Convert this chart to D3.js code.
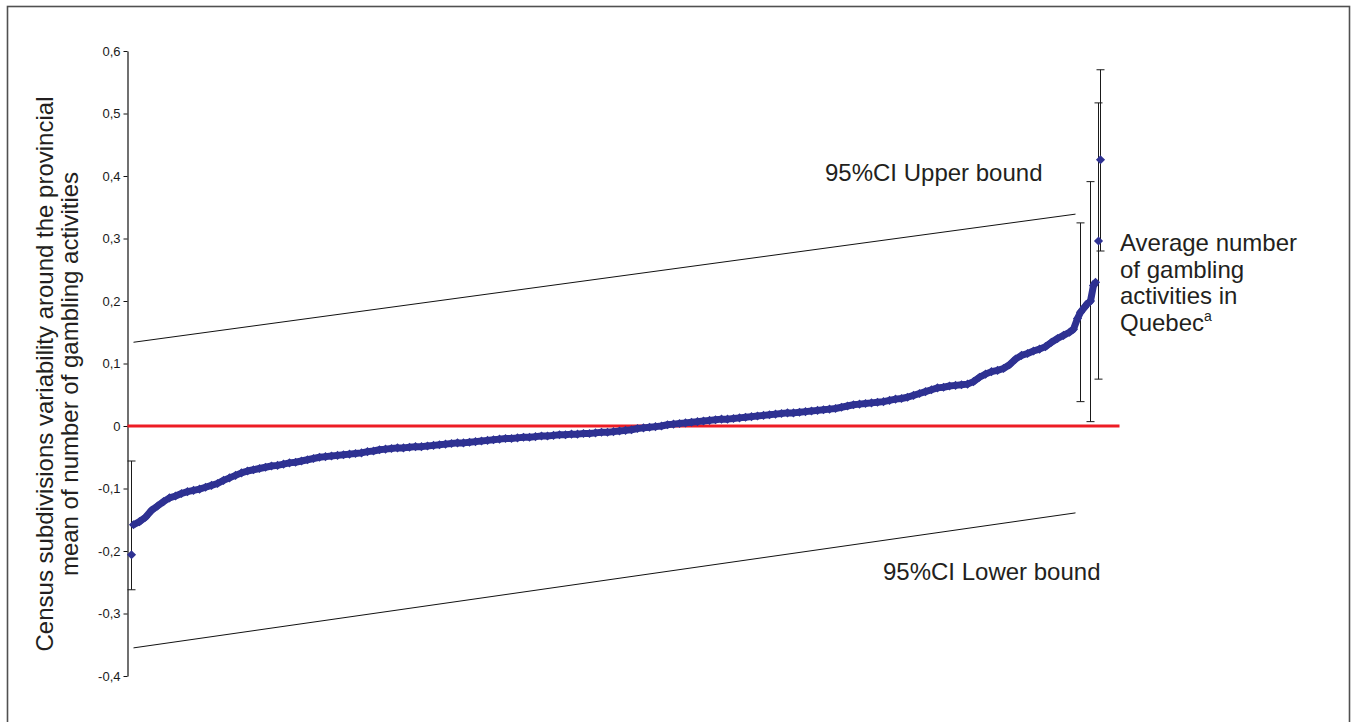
<!DOCTYPE html>
<html>
<head>
<meta charset="utf-8">
<script src="https://cdn.jsdelivr.net/npm/d3@7"></script>
<style>
  body { margin: 0; background: #fff; }
  svg { display: block; font-family: "Liberation Sans", Arial, sans-serif; }
</style>
</head>
<body>
<svg width="1353" height="722"></svg>
<script>
// rank of the census subdivision (sorted) and its deviation from the provincial mean
const csdPoints = [
  [4, -0.206],
  [6, -0.158], [12, -0.153], [18, -0.146], [24, -0.135], [30, -0.128], [36, -0.121],
  [42, -0.115], [48, -0.112], [54, -0.108], [60, -0.105], [66, -0.103], [72, -0.101],
  [78, -0.098], [84, -0.095], [90, -0.092], [96, -0.087], [102, -0.083], [108, -0.079],
  [114, -0.075], [120, -0.072], [126, -0.070], [132, -0.068], [138, -0.066], [144, -0.064],
  [150, -0.063], [156, -0.061], [162, -0.059], [168, -0.058], [174, -0.056], [180, -0.054],
  [186, -0.052], [192, -0.050], [198, -0.049], [204, -0.048], [210, -0.047], [216, -0.046],
  [222, -0.045], [228, -0.044], [234, -0.043], [240, -0.041], [246, -0.040], [252, -0.038],
  [258, -0.037], [264, -0.036], [270, -0.035], [276, -0.035], [282, -0.034], [288, -0.033],
  [294, -0.033], [300, -0.032], [306, -0.031], [312, -0.030], [318, -0.029], [324, -0.028],
  [330, -0.027], [336, -0.027], [342, -0.026], [348, -0.025], [354, -0.024], [360, -0.023],
  [366, -0.022], [372, -0.021], [378, -0.020], [384, -0.020], [390, -0.019], [396, -0.018],
  [402, -0.018], [408, -0.017], [414, -0.016], [420, -0.016], [426, -0.015], [432, -0.014],
  [438, -0.014], [444, -0.013], [450, -0.013], [456, -0.012], [462, -0.012], [468, -0.011],
  [474, -0.010], [480, -0.010], [486, -0.009], [492, -0.008], [498, -0.007], [504, -0.006],
  [510, -0.004], [516, -0.003], [522, -0.002], [528, -0.001], [534, 0.000], [540, 0.002],
  [546, 0.003], [552, 0.004], [558, 0.005], [564, 0.006], [570, 0.007], [576, 0.008],
  [582, 0.009], [588, 0.010], [594, 0.011], [600, 0.011], [606, 0.012], [612, 0.013],
  [618, 0.014], [624, 0.015], [630, 0.016], [636, 0.017], [642, 0.018], [648, 0.019],
  [654, 0.020], [660, 0.021], [666, 0.021], [672, 0.022], [678, 0.023], [684, 0.024],
  [690, 0.025], [696, 0.026], [702, 0.027], [708, 0.028], [714, 0.030], [720, 0.032],
  [726, 0.034], [732, 0.035], [738, 0.036], [744, 0.037], [750, 0.038], [756, 0.039],
  [762, 0.041], [768, 0.043], [774, 0.044], [780, 0.046], [786, 0.049], [792, 0.052],
  [798, 0.055], [804, 0.058], [810, 0.061], [816, 0.062], [822, 0.064], [828, 0.065],
  [834, 0.066], [840, 0.067], [846, 0.071], [852, 0.078], [858, 0.083], [864, 0.087],
  [870, 0.089], [876, 0.092], [882, 0.098], [888, 0.107], [894, 0.113], [900, 0.116],
  [906, 0.120], [912, 0.123], [918, 0.127], [924, 0.134], [930, 0.140], [936, 0.145],
  [942, 0.150], [946, 0.155], [950, 0.172], [953, 0.182], [957, 0.190], [960, 0.196],
  [963, 0.200], [966, 0.225], [968, 0.230],
  [971, 0.296], [973, 0.426]
];

// 95% confidence intervals shown for the extreme subdivisions
const errorBars = [
  { rank: 4, lo: -0.262, hi: -0.056 },
  { rank: 953, lo: 0.039, hi: 0.325 },
  { rank: 963, lo: 0.007, hi: 0.391 },
  { rank: 971, lo: 0.075, hi: 0.517 },
  { rank: 973, lo: 0.280, hi: 0.570 }
];

// 95% CI bounds: [rank, value] at both ends
const upperBound = [[6, 0.134], [948, 0.339]];
const lowerBound = [[6, -0.355], [948, -0.139]];

const yTicks = [-0.4, -0.3, -0.2, -0.1, 0, 0.1, 0.2, 0.3, 0.4, 0.5, 0.6];
const yTitle = ["Census subdivisions variability around the provincial",
                "mean of number of gambling activities"];
const quebecLabel = ["Average number", "of gambling", "activities in", "Quebec"];

function draw() {
    let svg = d3.select("svg");

    // outer frame
    svg.append("rect")
        .attr("x", 7.5).attr("y", 6.5)
        .attr("width", 1342).attr("height", 740)
        .attr("fill", "none")
        .attr("stroke", "#505050")
        .attr("stroke-width", 1.6);

    let x = d3.scaleLinear().domain([0, 992]).range([127.5, 1119.5]);
    let y = d3.scaleLinear().domain([-0.4, 0.6]).range([676, 51]);

    // y axis
    let yAxis = svg.append("g")
        .attr("transform", `translate(${x(0)},0)`)
        .call(d3.axisLeft(y)
            .tickValues(yTicks)
            .tickSize(4)
            .tickSizeOuter(0)
            .tickFormat(d => d3.format(".1f")(d).replace(".", ",").replace("0,0", "0").replace("−", "-")));
    yAxis.select(".domain").attr("stroke", "#111").attr("stroke-width", 1.2);
    yAxis.selectAll(".tick line").attr("stroke", "#111");
    yAxis.selectAll(".tick text")
        .attr("fill", "#1a1a1a")
        .style("font-size", "13px")
        .style("font-family", "'Liberation Sans', Arial, sans-serif");

    // y title
    let title = svg.append("text")
        .attr("transform", "translate(53,374) rotate(-90)")
        .attr("text-anchor", "middle")
        .attr("fill", "#231f20")
        .style("font-size", "24px");
    title.selectAll("tspan")
        .data(yTitle)
        .enter()
        .append("tspan")
        .attr("x", 0)
        .attr("dy", (d, i) => i === 0 ? 0 : 24.5)
        .text(d => d);

    // zero line
    svg.append("line")
        .attr("x1", x(0)).attr("x2", x(992))
        .attr("y1", y(0)).attr("y2", y(0))
        .attr("stroke", "#ed1c24")
        .attr("stroke-width", 3);

    // 95% CI bounds
    let boundLine = d3.line().x(d => x(d[0])).y(d => y(d[1]));
    [upperBound, lowerBound].forEach(b => {
        svg.append("path")
            .attr("d", boundLine(b))
            .attr("fill", "none")
            .attr("stroke", "#111")
            .attr("stroke-width", 1);
    });

    // error bars
    let bars = svg.selectAll(".errbar")
        .data(errorBars)
        .enter()
        .append("g")
        .attr("class", "errbar")
        .attr("stroke", "#1a1a1a")
        .attr("stroke-width", 1);
    bars.append("line")
        .attr("x1", d => x(d.rank)).attr("x2", d => x(d.rank))
        .attr("y1", d => y(d.lo)).attr("y2", d => y(d.hi));
    bars.append("line")
        .attr("x1", d => x(d.rank) - 4).attr("x2", d => x(d.rank) + 4)
        .attr("y1", d => y(d.lo)).attr("y2", d => y(d.lo));
    bars.append("line")
        .attr("x1", d => x(d.rank) - 4).attr("x2", d => x(d.rank) + 4)
        .attr("y1", d => y(d.hi)).attr("y2", d => y(d.hi));

    // dense run of markers: a thick band under the diamonds
    let band = csdPoints.filter(d => d[0] >= 6 && d[0] <= 968);
    svg.append("path")
        .attr("d", d3.line().x(d => x(d[0])).y(d => y(d[1]))(band))
        .attr("fill", "none")
        .attr("stroke", "#2e3192")
        .attr("stroke-width", 7)
        .attr("stroke-linejoin", "round");

    let diamond = d3.symbol(d3.symbolSquare, 42);
    svg.selectAll(".csd")
        .data(csdPoints)
        .enter()
        .append("path")
        .attr("class", "csd")
        .attr("d", diamond)
        .attr("transform", d => `translate(${x(d[0])},${y(d[1])}) rotate(45)`)
        .attr("fill", "#2e3192");

    // annotations
    svg.append("text")
        .attr("x", 825).attr("y", 181)
        .attr("fill", "#231f20")
        .style("font-size", "24px")
        .text("95%CI Upper bound");
    svg.append("text")
        .attr("x", 883).attr("y", 580)
        .attr("fill", "#231f20")
        .style("font-size", "24px")
        .text("95%CI Lower bound");

    let q = svg.append("text")
        .attr("x", 1120).attr("y", 251)
        .attr("fill", "#231f20")
        .style("font-size", "24px");
    quebecLabel.forEach((t, i) => {
        q.append("tspan")
            .attr("x", 1120)
            .attr("dy", i === 0 ? 0 : 26.7)
            .text(t);
    });
    q.append("tspan")
        .attr("dy", -10)
        .style("font-size", "14px")
        .text("a");
}

draw();
</script>
</body>
</html>
